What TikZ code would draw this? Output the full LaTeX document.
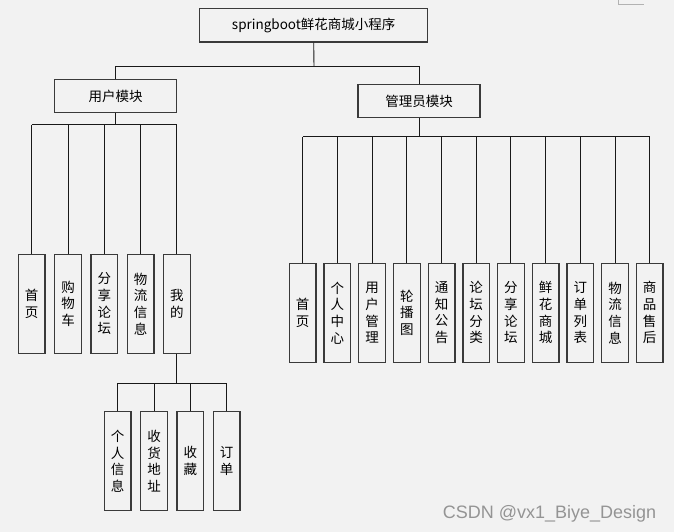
\documentclass[tikz,border=0pt]{standalone}
\usepackage{fontspec}
\setmainfont{Noto Sans CJK SC}
\newfontfamily\wmfont{Liberation Sans}
\definecolor{bgc}{HTML}{F2F2F2}
\definecolor{boxline}{HTML}{3A3A3A}
\begin{document}
\begin{tikzpicture}[x=1pt,y=-1pt,
  box/.style={draw=boxline,line width=1.3pt,inner sep=0pt,align=center,
    font=\fontsize{13.5}{16.7}\selectfont},
  hbox/.style={box,minimum width=228pt,minimum height=33.7pt},
  mbox/.style={box,minimum width=122pt,minimum height=33.4pt},
  vbox/.style={box,minimum width=26.7pt,minimum height=99pt},
  conn/.style={draw=black!90,line width=0.9pt}]
\fill[bgc] (0,0) rectangle (674,532);
\useasboundingbox (0,0) rectangle (674,532);
\draw[black!30,line width=0.8pt] (618,0) -- (618,4.3) -- (643.7,4.3);

\node[hbox] (top) at (313.7,25.2) {springboot鲜花商城小程序};
\node[mbox] (user) at (115.5,96) {用户模块};
\node[mbox] (admin) at (419,101) {管理员模块};

\coordinate (j1) at (314,66.7);
\coordinate (bl) at (0,124.7);
\coordinate (br) at (0,136.7);
\coordinate (bm) at (0,383.3);

% user children
\node[vbox] (u1) at (31.7,303.8) {首\\页};
\node[vbox] (u2) at (68,303.8) {购\\物\\车};
\node[vbox] (u3) at (104.3,303.8) {分\\享\\论\\坛};
\node[vbox] (u4) at (140.7,303.8) {物\\流\\信\\息};
\node[vbox] (u5) at (176.8,303.8) {我\\的};

% mine children
\node[vbox] (m1) at (117.7,461.2) {个\\人\\信\\息};
\node[vbox] (m2) at (154,461.2) {收\\货\\地\\址};
\node[vbox] (m3) at (190.3,461.2) {收\\藏};
\node[vbox] (m4) at (226.7,461.2) {订\\单};

% admin children
\node[vbox] (a1) at (302.7,312.8) {首\\页};
\node[vbox] (a2) at (337.4,312.8) {个\\人\\中\\心};
\node[vbox] (a3) at (372.1,312.8) {用\\户\\管\\理};
\node[vbox] (a4) at (406.8,312.8) {轮\\播\\图};
\node[vbox] (a5) at (441.5,312.8) {通\\知\\公\\告};
\node[vbox] (a6) at (476.2,312.8) {论\\坛\\分\\类};
\node[vbox] (a7) at (510.9,312.8) {分\\享\\论\\坛};
\node[vbox] (a8) at (545.6,312.8) {鲜\\花\\商\\城};
\node[vbox] (a9) at (580.3,312.8) {订\\单\\列\\表};
\node[vbox] (a10) at (615,312.8) {物\\流\\信\\息};
\node[vbox] (a11) at (649.7,312.8) {商\\品\\售\\后};

% top connectors
\draw[conn] (top.south) -- (j1);
\draw[conn] (user.north) -- (user.north |- j1) -- (admin.north |- j1) -- (admin.north);

% user bus
\draw[conn,line width=1.8pt] (user.south) -- (user.south |- bl);
\draw[conn] (u1.north |- bl) -- (u5.north |- bl);
\foreach \n in {u1,u2,u3,u4,u5} \draw[conn] (\n.north) -- (\n.north |- bl);

% admin bus
\draw[conn] (admin.south) -- (admin.south |- br);
\draw[conn] (a1.north |- br) -- (a11.north |- br);
\foreach \n in {a1,a2,a3,a4,a5,a6,a7,a8,a9,a10,a11} \draw[conn] (\n.north) -- (\n.north |- br);

% mine bus
\draw[conn] (u5.south) -- (u5.south |- bm);
\draw[conn] (m1.north |- bm) -- (m4.north |- bm);
\foreach \n in {m1,m2,m3,m4} \draw[conn] (\n.north) -- (\n.north |- bm);

\node[anchor=base west,inner sep=0pt,text=black!42,font=\wmfont\fontsize{18}{20}\selectfont] (wm) at (442.7,518.3) {CSDN @vx1\_Biye\_Design};
\end{tikzpicture}
\end{document}
